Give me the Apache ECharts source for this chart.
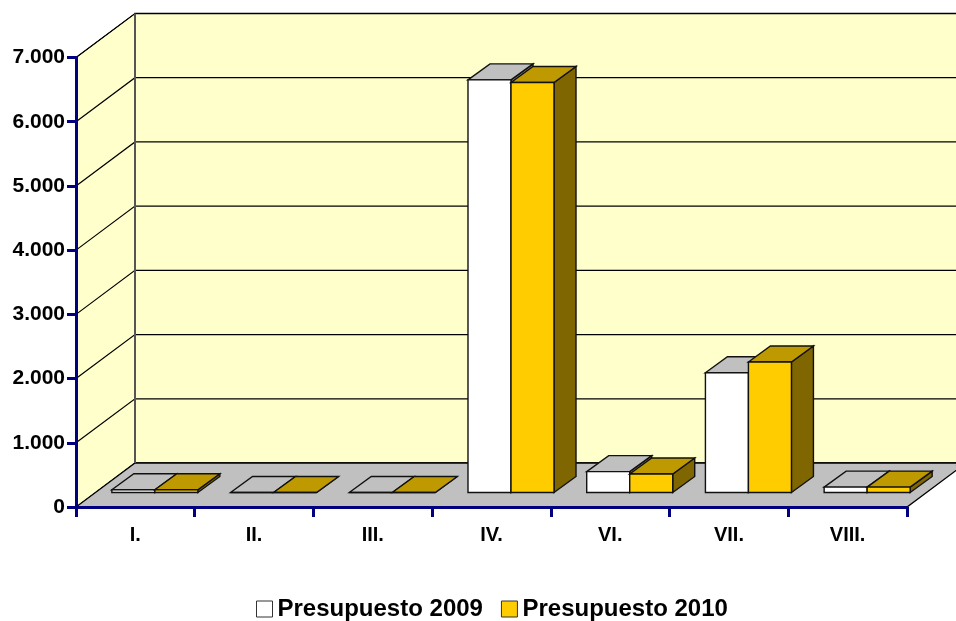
<!DOCTYPE html>
<html><head><meta charset="utf-8">
<style>html,body{margin:0;padding:0;background:#fff}#c{width:956px;height:621px}</style>
<script src="https://cdn.jsdelivr.net/npm/echarts@6/dist/echarts.min.js"></script>
</head><body><div id="c"></div>
<script>
const categories = ['I.','II.','III.','IV.','VI.','VII.','VIII.'];
const presupuesto2009 = [42,0,0,6425,325,1865,84];
const presupuesto2010 = [42,0,0,6385,288,2033,84];
const yTicks = [0,1000,2000,3000,4000,5000,6000,7000];

const FONT = '"Liberation Sans", Arial, sans-serif';
const WALL_DX = 59, WALL_DY = -44;
const BAR_SHIFT_X = 19.5, BAR_SHIFT_Y = -14.5, BAR_DX = 22, BAR_DY = -16, BAR_RATIO = 43 / 118.7;

const chart = echarts.init(document.getElementById('c'), null, {renderer:'canvas'});

function poly(points, fill, stroke, lw){
  return {type:'polygon', shape:{points}, style:{fill, stroke:stroke||'#000', lineWidth:lw==null?1:lw}, silent:true};
}
function wallRender(params, api){
  const g = params.coordSys, L = g.x, R = g.x + g.width;
  const y0 = api.coord([0,0])[1], yTop = api.coord([0,7000])[1];
  const ch = [];
  ch.push(poly([[L,y0],[L+WALL_DX,y0+WALL_DY],[L+WALL_DX,yTop+WALL_DY],[L,yTop]],'#FFFFCC','#000',1));
  ch.push(poly([[L+WALL_DX,y0+WALL_DY],[R+WALL_DX,y0+WALL_DY],[R+WALL_DX,yTop+WALL_DY],[L+WALL_DX,yTop+WALL_DY]],'#FFFFCC','#000',1.3));
  ch.push(poly([[L,y0],[R,y0],[R+WALL_DX,y0+WALL_DY],[L+WALL_DX,y0+WALL_DY]],'#C0C0C0','#000',1.3));
  yTicks.forEach(v=>{
    if(v===0) return;
    const y = api.coord([0,v])[1];
    ch.push({type:'polyline',shape:{points:[[L,y],[L+WALL_DX,y+WALL_DY],[R+WALL_DX,y+WALL_DY]]},style:{fill:null,stroke:'#000',lineWidth:1.2},silent:true});
  });
  ch.push({type:'line',shape:{x1:L+WALL_DX,y1:y0+WALL_DY,x2:L+WALL_DX,y2:yTop+WALL_DY},style:{stroke:'#555',lineWidth:2},silent:true});
  return {type:'group',children:ch};
}
function barRender(side, front, top, sideCol){
  return function(params, api){
    const c = api.coord([api.value(0), api.value(1)]);
    const base = api.coord([api.value(0), 0])[1] + BAR_SHIFT_Y;
    const w = api.size([1,0])[0] * BAR_RATIO;
    const cx = c[0] + BAR_SHIFT_X;
    const x0 = side < 0 ? cx - w : cx, x1 = x0 + w;
    const t = c[1] + BAR_SHIFT_Y;
    return {type:'group',children:[
      poly([[x1,base],[x1+BAR_DX,base+BAR_DY],[x1+BAR_DX,t+BAR_DY],[x1,t]],sideCol,'#111',1.4),
      poly([[x0,t],[x0+BAR_DX,t+BAR_DY],[x1+BAR_DX,t+BAR_DY],[x1,t]],top,'#111',1.4),
      poly([[x0,base],[x1,base],[x1,t],[x0,t]],front,'#111',1.4)
    ]};
  };
}
chart.setOption({
  backgroundColor:'#fff',
  animation:false,
  textStyle:{fontFamily:FONT},
  grid:{left:76,right:49,top:57.5,bottom:114,containLabel:false},
  legend:{
    left:256, top:597, padding:0, itemWidth:16, itemHeight:16, itemGap:18, selectedMode:false,
    textStyle:{fontFamily:FONT,fontWeight:'bold',fontSize:24,color:'#000'},
    data:[
      {name:'Presupuesto 2009',icon:'rect',itemStyle:{color:'#fff',borderColor:'#333',borderWidth:1}},
      {name:'Presupuesto 2010',icon:'rect',itemStyle:{color:'#FFCC00',borderColor:'#333',borderWidth:1}}
    ]
  },
  xAxis:{type:'category',data:categories,z:4,
    axisLine:{lineStyle:{color:'#000080',width:3}},
    axisTick:{show:true,alignWithLabel:false,length:10,lineStyle:{color:'#000080',width:3}},
    axisLabel:{color:'#000',fontWeight:'bold',fontSize:20,fontFamily:FONT,margin:18},
    splitLine:{show:false}
  },
  yAxis:{type:'value',min:0,max:7000,interval:1000,z:4,
    axisLine:{show:true,lineStyle:{color:'#000080',width:3}},
    axisTick:{show:true,length:9,lineStyle:{color:'#000080',width:3}},
    axisLabel:{color:'#000',fontWeight:'bold',fontSize:21,fontFamily:FONT,margin:11,padding:[3,0,0,0],
      formatter:v=>v===0?'0':String(v/1000)+'.000'},
    splitLine:{show:false}
  },
  series:[
    {type:'custom',name:'wall',z:1,silent:true,clip:false,data:[[0,0]],encode:{x:0,y:1},renderItem:wallRender},
    {type:'custom',name:'Presupuesto 2009',z:5,silent:true,clip:false,itemStyle:{color:'#fff'},
      data:presupuesto2009.map((v,i)=>[i,v]),encode:{x:0,y:1},
      renderItem:barRender(-1,'#FFFFFF','#C0C0C0','#808080')},
    {type:'custom',name:'Presupuesto 2010',z:6,silent:true,clip:false,itemStyle:{color:'#FFCC00'},
      data:presupuesto2010.map((v,i)=>[i,v]),encode:{x:0,y:1},
      renderItem:barRender(1,'#FFCC00','#BF9900','#806600')}
  ]
});
</script></body></html>
